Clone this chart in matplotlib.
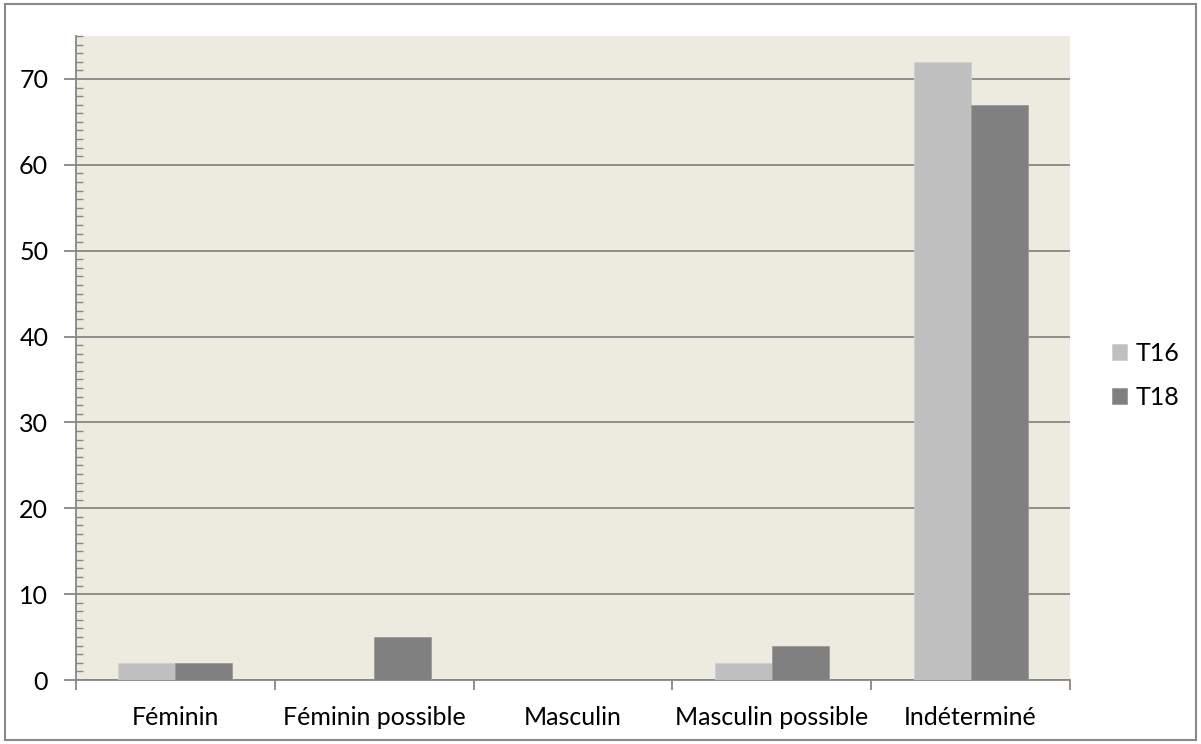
import matplotlib
matplotlib.use("Agg")
import matplotlib.pyplot as plt
import numpy as np
from matplotlib.patches import Rectangle
from matplotlib.ticker import MultipleLocator, FixedLocator, NullFormatter

CATEGORIES = ["Féminin", "Féminin possible", "Masculin", "Masculin possible", "Indéterminé"]
SERIES = ["T16", "T18"]
T16 = [2, 0, 0, 2, 72]
T18 = [2, 5, 0, 4, 67]

COLORS = {"T16": "#BFBFBF", "T18": "#808080"}
GRID = "#878787"
FS = 18

plt.rcParams["font.family"] = ["Lato", "DejaVu Sans"]

fig = plt.figure(figsize=(12.01, 7.44), dpi=100)
fig.patches.append(Rectangle((0.004, 0.006), 0.992, 0.988, transform=fig.transFigure,
                             fill=False, edgecolor="#888888", linewidth=1.5))
ax = fig.add_axes([0.0633, 0.086, 0.8276, 0.8656])
ax.set_facecolor("#EDEAE0")

x = np.arange(len(CATEGORIES))
w = 0.287
ax.bar(x - w / 2, T16, width=w, color=COLORS["T16"], edgecolor="#D0D0D0", linewidth=0.6,
       label="T16", zorder=3)
ax.bar(x + w / 2, T18, width=w, color=COLORS["T18"], edgecolor="#9A9A9A", linewidth=0.6,
       label="T18", zorder=3)

ax.set_xlim(-0.5, len(CATEGORIES) - 0.5)
ax.set_ylim(0, 75)
ax.yaxis.set_major_locator(MultipleLocator(10))
ax.yaxis.set_minor_locator(MultipleLocator(1))
ax.grid(axis="y", which="major", color=GRID, linewidth=1.3, zorder=1)

ax.set_xticks(x)
ax.set_xticklabels(CATEGORIES, fontsize=FS)
ax.xaxis.set_minor_locator(FixedLocator(np.arange(-0.5, len(CATEGORIES), 1.0)))
ax.xaxis.set_minor_formatter(NullFormatter())
ax.tick_params(axis="x", which="major", length=0, pad=19)
ax.tick_params(axis="x", which="minor", length=7, width=1.3, color=GRID, direction="out")
ax.tick_params(axis="y", which="major", length=9, width=1.3, color=GRID, direction="out",
               labelsize=FS, pad=11)
ax.tick_params(axis="y", which="minor", length=5, width=1.0, color=GRID, direction="in")

for side in ["top", "right"]:
    ax.spines[side].set_visible(False)
for side in ["left", "bottom"]:
    ax.spines[side].set_color(GRID)
    ax.spines[side].set_linewidth(1.3)

ax.legend(loc="center left", bbox_to_anchor=(1.03, 0.473), frameon=False, fontsize=FS,
          handlelength=0.6, handleheight=0.6, handletextpad=0.35, labelspacing=0.85,
          borderpad=0)

fig.savefig("out.png", dpi=100)
